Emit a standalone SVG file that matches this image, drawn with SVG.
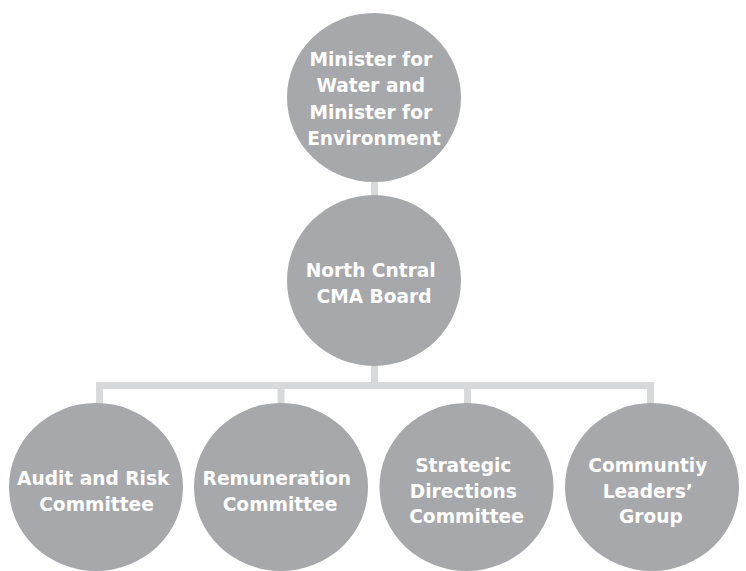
<svg xmlns="http://www.w3.org/2000/svg" width="746" height="571" viewBox="0 0 746 571">
  <style>
    .node { fill: #a7a8ab; }
    .link { fill: none; stroke: #d8d9db; stroke-width: 7; }
    .label { fill: #ffffff; font-family: "DejaVu Sans", "Liberation Sans", sans-serif; font-weight: bold; font-size: 18.6px; text-anchor: middle; }
  </style>

  <!-- reporting lines -->
  <g id="connectors">
    <line class="link" x1="374.5" y1="180" x2="374.5" y2="197"/>
    <line class="link" x1="374.5" y1="364" x2="374.5" y2="386"/>
    <polyline class="link" points="99.5,405 99.5,385.5 650.5,385.5 650.5,405"/>
    <line class="link" x1="281" y1="385.5" x2="281" y2="405"/>
    <line class="link" x1="467.5" y1="385.5" x2="467.5" y2="405"/>
  </g>

  <g id="ministers">
    <ellipse class="node" cx="374" cy="97.5" rx="87" ry="84.5"/>
    <text class="label">
      <tspan x="374" y="65.5">Minister for</tspan>
      <tspan x="374" y="92">Water and</tspan>
      <tspan x="374" y="118.5">Minister for</tspan>
      <tspan x="374" y="145">Environment</tspan>
    </text>
  </g>

  <g id="board">
    <ellipse class="node" cx="374" cy="280.5" rx="87" ry="85.5"/>
    <text class="label">
      <tspan x="374" y="277">North Cntral</tspan>
      <tspan x="374" y="303">CMA Board</tspan>
    </text>
  </g>

  <g id="audit-risk">
    <ellipse class="node" cx="96" cy="487" rx="87" ry="84"/>
    <text class="label">
      <tspan x="96.5" y="485">Audit and Risk</tspan>
      <tspan x="96.5" y="511">Committee</tspan>
    </text>
  </g>

  <g id="remuneration">
    <ellipse class="node" cx="281" cy="487" rx="87" ry="84"/>
    <text class="label">
      <tspan x="280" y="485">Remuneration</tspan>
      <tspan x="280" y="511">Committee</tspan>
    </text>
  </g>

  <g id="strategic-directions">
    <ellipse class="node" cx="466.5" cy="487" rx="87" ry="84"/>
    <text class="label">
      <tspan x="466.5" y="472">Strategic</tspan>
      <tspan x="466.5" y="497.5">Directions</tspan>
      <tspan x="466.5" y="523">Committee</tspan>
    </text>
  </g>

  <g id="community-leaders">
    <ellipse class="node" cx="652" cy="487" rx="87" ry="84"/>
    <text class="label">
      <tspan x="651" y="472">Communtiy</tspan>
      <tspan x="651" y="497.5">Leaders’</tspan>
      <tspan x="651" y="523">Group</tspan>
    </text>
  </g>
</svg>
